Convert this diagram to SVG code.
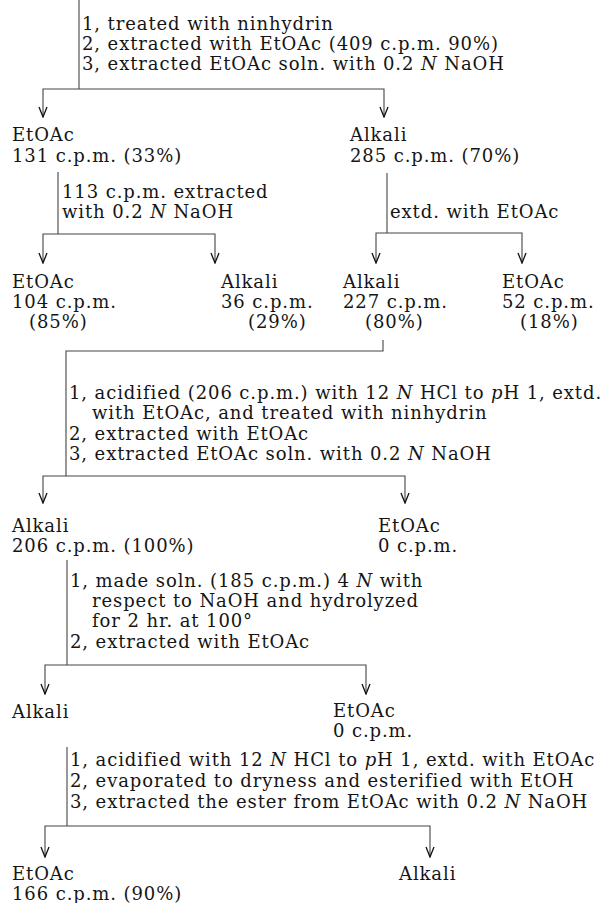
<svg xmlns="http://www.w3.org/2000/svg" width="605" height="903" viewBox="0 0 605 903">
  <style>
    text { font-family: "DejaVu Serif", "Liberation Serif", serif; font-size: 18px; fill: #151515; letter-spacing: 0.9px; }
    .it { font-style: italic; }
    .ln { fill: none; stroke: #444; stroke-width: 1.1; }
  </style>
  <defs>
    <!-- open chevron arrowhead for every branch -->
    <marker id="ah" viewBox="-11 -5 12 10" refX="0" refY="0" markerWidth="12" markerHeight="10" markerUnits="userSpaceOnUse" orient="auto">
      <path d="M -10 -4 L 0 0 L -10 4" fill="none" stroke="#111" stroke-width="1.3"/>
    </marker>
  </defs>

  <rect width="605" height="903" fill="#fff"/>

  <!-- connectors -->
  <g id="connectors" class="ln">
    <!-- start: first treatment -->
    <path d="M 79 0 V 89"/>
    <path d="M 79 89 H 43 V 117" marker-end="url(#ah)"/>
    <path d="M 79 89 H 384 V 117" marker-end="url(#ah)"/>
    <!-- EtOAc branch re-extracted -->
    <path d="M 58 172 V 234"/>
    <path d="M 58 234 H 43 V 263" marker-end="url(#ah)"/>
    <path d="M 58 234 H 215 V 263" marker-end="url(#ah)"/>
    <!-- Alkali branch re-extracted -->
    <path d="M 387 173 V 233"/>
    <path d="M 387 233 H 376 V 263" marker-end="url(#ah)"/>
    <path d="M 387 233 H 522 V 263" marker-end="url(#ah)"/>
    <!-- Alkali 227 c.p.m. carried on -->
    <path d="M 383 340 V 351 H 66 V 476"/>
    <path d="M 66 476 H 43 V 503" marker-end="url(#ah)"/>
    <path d="M 66 476 H 405 V 503" marker-end="url(#ah)"/>
    <!-- hydrolysis -->
    <path d="M 67 560 V 665"/>
    <path d="M 67 665 H 45 V 694" marker-end="url(#ah)"/>
    <path d="M 67 665 H 366 V 694" marker-end="url(#ah)"/>
    <!-- esterification -->
    <path d="M 67 747 V 826"/>
    <path d="M 67 826 H 45 V 857" marker-end="url(#ah)"/>
    <path d="M 67 826 H 430 V 857" marker-end="url(#ah)"/>
  </g>

  <!-- step labels -->
  <g id="step1">
    <text x="82" y="30">1, treated with ninhydrin</text>
    <text x="82" y="50">2, extracted with EtOAc (409 c.p.m. 90%)</text>
    <text x="82" y="70">3, extracted EtOAc soln. with 0.2 <tspan class="it">N</tspan> NaOH</text>
  </g>
  <g id="step2a">
    <text x="62" y="198">113 c.p.m. extracted</text>
    <text x="62" y="218">with 0.2 <tspan class="it">N</tspan> NaOH</text>
  </g>
  <g id="step2b">
    <text x="390" y="218">extd. with EtOAc</text>
  </g>
  <g id="step3">
    <text x="69" y="399">1, acidified (206 c.p.m.) with 12 <tspan class="it">N</tspan> HCl to <tspan class="it">p</tspan>H 1, extd.</text>
    <text x="92" y="419">with EtOAc, and treated with ninhydrin</text>
    <text x="69" y="440">2, extracted with EtOAc</text>
    <text x="69" y="460">3, extracted EtOAc soln. with 0.2 <tspan class="it">N</tspan> NaOH</text>
  </g>
  <g id="step4">
    <text x="70" y="587">1, made soln. (185 c.p.m.) 4 <tspan class="it">N</tspan> with</text>
    <text x="92" y="607">respect to NaOH and hydrolyzed</text>
    <text x="92" y="627">for 2 hr. at 100°</text>
    <text x="70" y="648">2, extracted with EtOAc</text>
  </g>
  <g id="step5">
    <text x="70" y="766">1, acidified with 12 <tspan class="it">N</tspan> HCl to <tspan class="it">p</tspan>H 1, extd. with EtOAc</text>
    <text x="70" y="787">2, evaporated to dryness and esterified with EtOH</text>
    <text x="70" y="808">3, extracted the ester from EtOAc with 0.2 <tspan class="it">N</tspan> NaOH</text>
  </g>

  <!-- fractions -->
  <g id="etoac-131">
    <text x="12" y="141">EtOAc</text>
    <text x="12" y="162">131 c.p.m. (33%)</text>
  </g>
  <g id="alkali-285">
    <text x="350" y="141">Alkali</text>
    <text x="350" y="162">285 c.p.m. (70%)</text>
  </g>
  <g id="etoac-104">
    <text x="12" y="288">EtOAc</text>
    <text x="12" y="308">104 c.p.m.</text>
    <text x="29" y="328">(85%)</text>
  </g>
  <g id="alkali-36">
    <text x="221" y="288">Alkali</text>
    <text x="221" y="308">36 c.p.m.</text>
    <text x="248" y="328">(29%)</text>
  </g>
  <g id="alkali-227">
    <text x="343" y="288">Alkali</text>
    <text x="343" y="308">227 c.p.m.</text>
    <text x="365" y="328">(80%)</text>
  </g>
  <g id="etoac-52">
    <text x="502" y="288">EtOAc</text>
    <text x="502" y="308">52 c.p.m.</text>
    <text x="520" y="328">(18%)</text>
  </g>
  <g id="alkali-206">
    <text x="12" y="532">Alkali</text>
    <text x="12" y="552">206 c.p.m. (100%)</text>
  </g>
  <g id="etoac-0a">
    <text x="378" y="532">EtOAc</text>
    <text x="378" y="552">0 c.p.m.</text>
  </g>
  <g id="alkali-hydrolyzed">
    <text x="12" y="718">Alkali</text>
  </g>
  <g id="etoac-0b">
    <text x="333" y="717">EtOAc</text>
    <text x="333" y="737">0 c.p.m.</text>
  </g>
  <g id="etoac-166">
    <text x="12" y="880">EtOAc</text>
    <text x="12" y="900">166 c.p.m. (90%)</text>
  </g>
  <g id="alkali-final">
    <text x="399" y="880">Alkali</text>
  </g>
</svg>
